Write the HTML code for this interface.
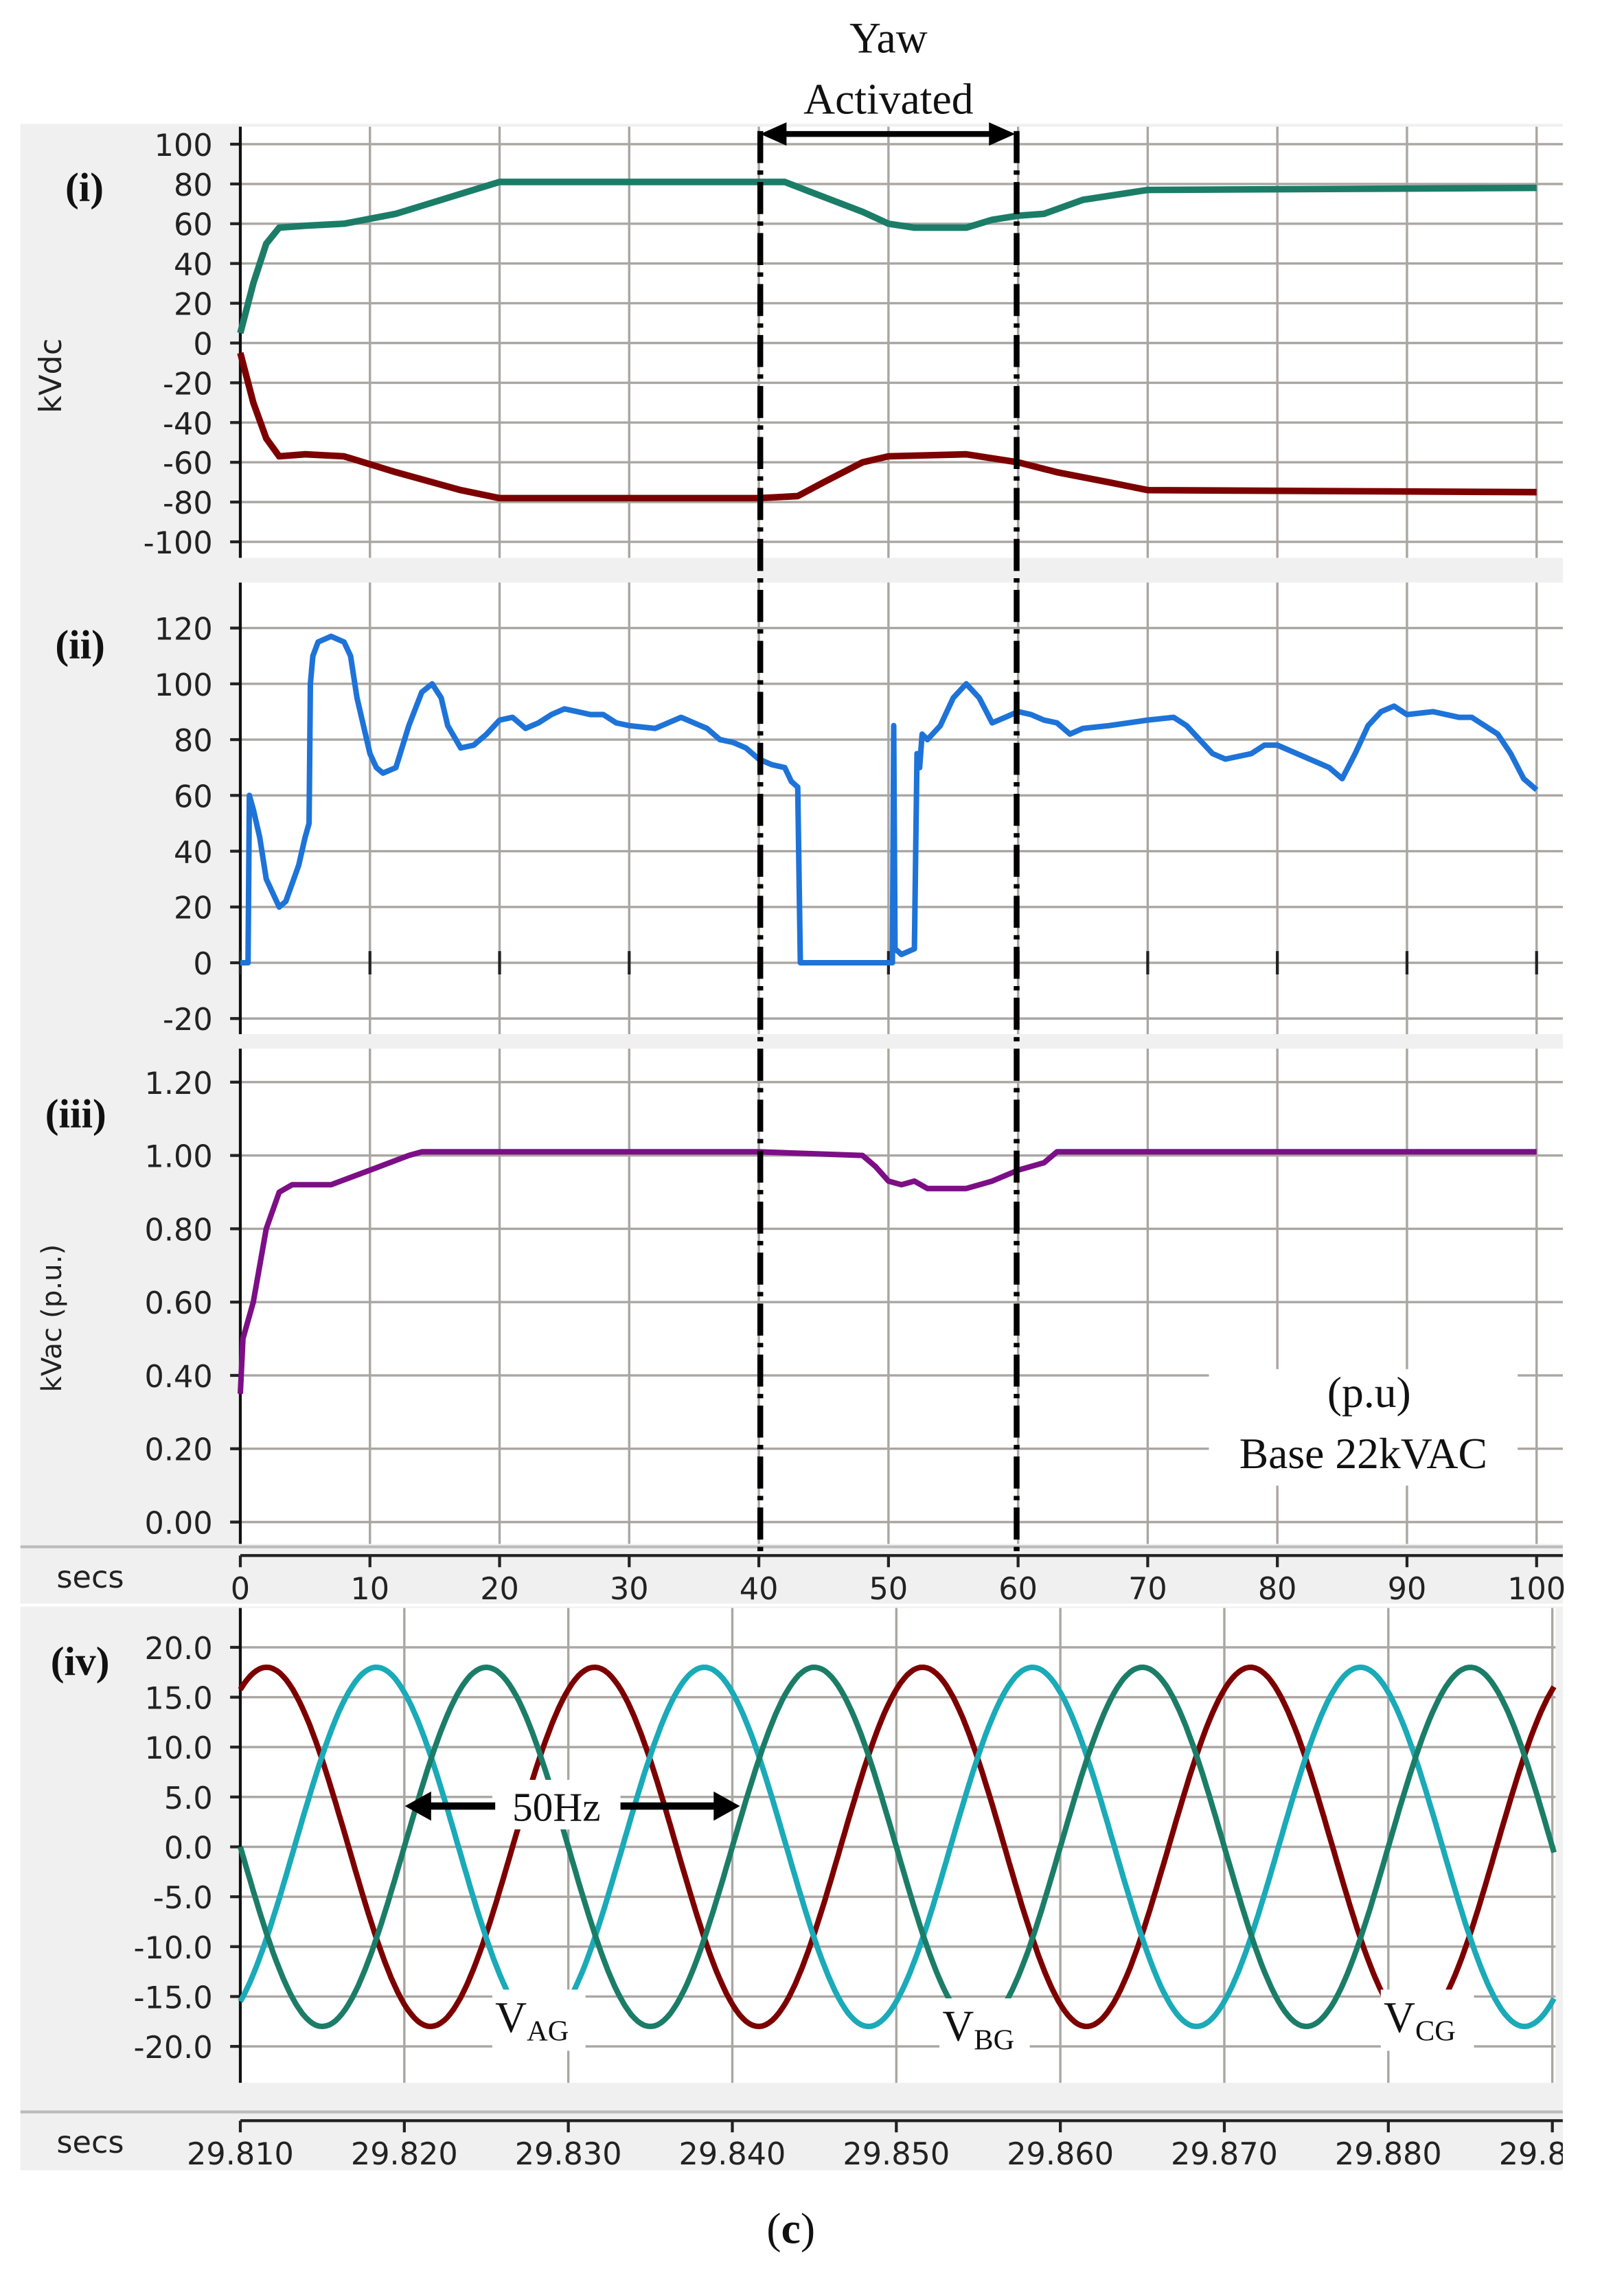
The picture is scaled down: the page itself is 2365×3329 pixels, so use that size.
<!DOCTYPE html>
<html><head><meta charset="utf-8"><style>html,body{margin:0;padding:0;background:#fff}svg{display:block}</style></head>
<body>
<svg id="fig" width="2365" height="3329" viewBox="0 0 1115 1569.5" preserveAspectRatio="none" xmlns="http://www.w3.org/2000/svg">
<rect x="14" y="85" width="1059" height="1405" fill="#f0f0f0"/>
<g id="plots"></g>
</svg>
<script>
const tI=[0,1,2,3,5,8,12,17,20,40,42,44,48,50,52,56,58,60,62,65,70,100];
const greenI=[5,30,50,58,59,60,65,75,81,81,81,76,66,60,58,58,62,64,65,72,77,78];
const tIr=[0,1,2,3,5,8,12,17,20,40,43,45,48,50,56,60,63,67,70,100];
const redI=[-5,-30,-48,-57,-56,-57,-65,-74,-78,-78,-77,-70,-60,-57,-56,-60,-65,-70,-74,-75];
const tII=[0,0.6,0.7,1,1.5,2,3,3.5,4.5,5,5.3,5.4,5.6,6,7,8,8.5,9,10,10.5,11,12,13,14,14.8,15.5,16,17,18,19,20,21,22,23,24,25,26,27,28,29,30,32,33,34,35,36,37,38,39,40,41,42,42.5,43,43.2,50.3,50.4,50.5,51,52,52.2,52.4,52.6,53,54,55,56,57,58,59,60,61,62,63,64,65,67,70,72,73,74,75,76,78,79,80,82,84,85,86,87,88,89,90,92,94,95,97,98,99,100];
const blueII=[0,0,60,55,45,30,20,22,35,45,50,100,110,115,117,115,110,95,75,70,68,70,85,97,100,95,85,77,78,82,87,88,84,86,89,91,90,89,89,86,85,84,86,88,86,84,80,79,77,73,71,70,65,63,0,0,85,5,3,5,75,70,82,80,85,95,100,95,86,88,90,89,87,86,82,84,85,87,88,85,80,75,73,75,78,78,74,70,66,75,85,90,92,89,90,88,88,82,75,66,62,63];
const tIII=[0,0.2,1,2,3,4,7,10,13,14,40,48,49,50,51,52,53,56,58,60,62,63,100];
const purpleIII=[0.35,0.5,0.6,0.8,0.9,0.92,0.92,0.96,1.0,1.01,1.01,1.0,0.97,0.93,0.92,0.93,0.91,0.91,0.93,0.96,0.98,1.01,1.01];
const phaseNames=['VAG','VBG','VCG'];
const phasePeakTimes=[29.8116,29.8183,29.8250];
const phaseAmps=[18,18,18];
const phaseFreq=50;
const ticksI=[100,80,60,40,20,0,-20,-40,-60,-80,-100];
const ticksII=[120,100,80,60,40,20,0,-20];
const ticksIII=[1.2,1.0,0.8,0.6,0.4,0.2,0.0];
const ticksIV=[20,15,10,5,0,-5,-10,-15,-20];
const xTicks=[0,10,20,30,40,50,60,70,80,90,100];
const xTicksIV=[29.81,29.82,29.83,29.84,29.85,29.86,29.87,29.88,29.89];

const NS='http://www.w3.org/2000/svg';
const plots=document.getElementById('plots');
function mk(tag,attrs,parent){const e=document.createElementNS(NS,tag);for(const k in attrs)e.setAttribute(k,attrs[k]);(parent||plots).appendChild(e);return e;}
const X=t=>165+(t/100)*890;
const XIV=t=>165+(t-29.81)/0.01*112.6;
const YI=v=>235.5-v*1.365;
const YII=v=>661-v*1.915;
const YIII=v=>1045-v*251.7;
const YIV=v=>1268-v*6.85;
const fnt='"DejaVu Sans","Liberation Sans",sans-serif';

function panel(top,bot,right,ticks,Y,fmt,name,vx,vxTicks){
  const r=mk('rect',{x:165,y:top,width:right-165,height:bot-top,fill:'#fff'});
  
  vxTicks.forEach(t=>{const x=vx(t);if(x>166&&x<right)mk('line',{x1:x,y1:top,x2:x,y2:bot,stroke:'#aaa6a2','stroke-width':1.6});});
  ticks.forEach(v=>{const y=Y(v);mk('line',{x1:165,y1:y,x2:right,y2:y,stroke:'#aaa6a2','stroke-width':1.6});
    mk('line',{x1:158,y1:y,x2:165,y2:y,stroke:'#222','stroke-width':2});
    const tx=mk('text',{x:146,y:y+8,'text-anchor':'end','font-family':fnt,'font-size':21,fill:'#222'});tx.textContent=fmt(v);
    });
  mk('line',{x1:165,y1:top,x2:165,y2:bot,stroke:'#111','stroke-width':2});
}
function line(xs,ys,Xf,Yf,color,name,w){
  const d=xs.map((t,i)=>(i?'L':'M')+Xf(t).toFixed(1)+','+Yf(ys[i]).toFixed(1)).join('');
  const p=mk('path',{d:d,fill:'none',stroke:color,'stroke-width':w||4,'stroke-linejoin':'round'});
  
}
panel(87,383,1073,ticksI,YI,v=>String(v),'panel-i',X,xTicks);
line(tI,greenI,X,YI,'#1b7d67','positive-dc-line',4.5);
line(tIr,redI,X,YI,'#7d0000','negative-dc-line',4.5);
panel(400,710,1073,ticksII,YII,v=>String(v),'panel-ii',X,xTicks);
xTicks.forEach(t=>mk('line',{x1:X(t),y1:653,x2:X(t),y2:669,stroke:'#222','stroke-width':2}));
line(tII,blueII,X,YII,'#1e73d8','power-line',3.8);
panel(720,1060,1073,ticksIII,YIII,v=>v.toFixed(2),'panel-iii',X,xTicks);
line(tIII,purpleIII,X,YIII,'#7d0f86','ac-voltage-line',3.8);
mk('line',{x1:14,y1:1062,x2:1073,y2:1062,stroke:'#bbb','stroke-width':2});
mk('line',{x1:165,y1:1068,x2:1073,y2:1068,stroke:'#222','stroke-width':2});
xTicks.forEach(t=>{mk('line',{x1:X(t),y1:1068,x2:X(t),y2:1076,stroke:'#222','stroke-width':2});
  const tx=mk('text',{x:X(t),y:1098,'text-anchor':'middle','font-family':fnt,'font-size':21,fill:'#222'});tx.textContent=String(t);
  });
mk('rect',{x:14,y:1101,width:1059,height:2,fill:'#fff'});
panel(1104,1430,1068,ticksIV,YIV,v=>v.toFixed(1),'panel-iv',XIV,xTicksIV);
const colorsIV=['#7d0000','#1aaab8','#1b7d67'];
phaseNames.forEach((n,i)=>{
  const ts=[],vs=[];
  for(let k=0;k<=400;k++){const t=29.81+k*0.0801/400;ts.push(t);vs.push(phaseAmps[i]*Math.cos(2*Math.PI*phaseFreq*(t-phasePeakTimes[i])));}
  line(ts,vs,XIV,YIV,colorsIV[i],'phase-'+n.toLowerCase()+'-line',3.8);
});
mk('line',{x1:14,y1:1450,x2:1073,y2:1450,stroke:'#bbb','stroke-width':2});
mk('line',{x1:165,y1:1456,x2:1073,y2:1456,stroke:'#222','stroke-width':2});
xTicksIV.forEach(t=>{const x=XIV(t);mk('line',{x1:x,y1:1456,x2:x,y2:1464,stroke:'#222','stroke-width':2});
  const tx=mk('text',{x:x,y:1486,'text-anchor':'middle','font-family':fnt,'font-size':21,fill:'#222'});tx.textContent=t.toFixed(3);
  });
mk('rect',{x:1073,y:1440,width:50,height:60,fill:'#fff'});
mk('rect',{x:0,y:1491,width:1115,height:80,fill:'#fff'});
</script>
<svg style="position:absolute;left:0;top:0" width="2365" height="3329" viewBox="0 0 1115 1569.5" preserveAspectRatio="none" xmlns="http://www.w3.org/2000/svg">
<g font-family="Liberation Serif, serif" fill="#111">
<text x="610" y="36" font-size="30" text-anchor="middle">Yaw</text>
<text x="610" y="78" font-size="30" text-anchor="middle">Activated</text>
<text x="58" y="138" font-size="28" font-weight="bold" text-anchor="middle">(i)</text>
<text x="55" y="452" font-size="28" font-weight="bold" text-anchor="middle">(ii)</text>
<text x="52" y="774" font-size="28" font-weight="bold" text-anchor="middle">(iii)</text>
<text x="55" y="1150" font-size="28" font-weight="bold" text-anchor="middle">(iv)</text>
<text x="543" y="1540" font-size="30" text-anchor="middle">(<tspan font-weight="bold">c</tspan>)</text>
</g>
<g font-family="DejaVu Sans, sans-serif" fill="#222" font-size="21">
<text transform="translate(42,258) rotate(-90)" text-anchor="middle">kVdc</text>
<text transform="translate(42,905) rotate(-90)" text-anchor="middle" font-size="19">kVac (p.u.)</text>
<text x="62" y="1090" text-anchor="middle">secs</text>
<text x="62" y="1478" text-anchor="middle">secs</text>
</g>
<rect x="830" y="940" width="212" height="80" fill="#fff"/>
<g font-family="Liberation Serif, serif" fill="#111" font-size="30" text-anchor="middle">
<text x="940" y="966">(p.u)</text>
<text x="936" y="1008">Base 22kVAC</text>
</g>
<g stroke="#000" stroke-width="4" stroke-dasharray="22,5,3,5">
<line x1="522" y1="90" x2="522" y2="1068"/>
<line x1="698" y1="90" x2="698" y2="1068"/>
</g>
<g>
<line x1="535" y1="92" x2="684" y2="92" stroke="#000" stroke-width="4"/>
<polygon points="522,92 540,84 540,100" fill="#000"/>
<polygon points="697,92 679,84 679,100" fill="#000"/>
</g>
<rect x="338" y="1222" width="88" height="34" fill="#fff"/>
<g>
<line x1="292" y1="1240" x2="340" y2="1240" stroke="#000" stroke-width="5"/>
<polygon points="278,1240 296,1230 296,1250" fill="#000"/>
<line x1="426" y1="1240" x2="495" y2="1240" stroke="#000" stroke-width="5"/>
<polygon points="508,1240 490,1230 490,1250" fill="#000"/>
</g>
<text x="382" y="1250" font-family="Liberation Serif, serif" font-size="28" text-anchor="middle" fill="#111">50Hz</text>
<rect x="338" y="1366" width="64" height="42" fill="#fff"/>
<rect x="645" y="1372" width="62" height="42" fill="#fff"/>
<rect x="948" y="1366" width="64" height="42" fill="#fff"/>
<g font-family="Liberation Serif, serif" font-size="30" fill="#111">
<text x="340" y="1395">V<tspan font-size="20" dy="6">AG</tspan></text>
<text x="647" y="1401">V<tspan font-size="20" dy="6">BG</tspan></text>
<text x="950" y="1395">V<tspan font-size="20" dy="6">CG</tspan></text>
</g>
</svg>
</body></html>
